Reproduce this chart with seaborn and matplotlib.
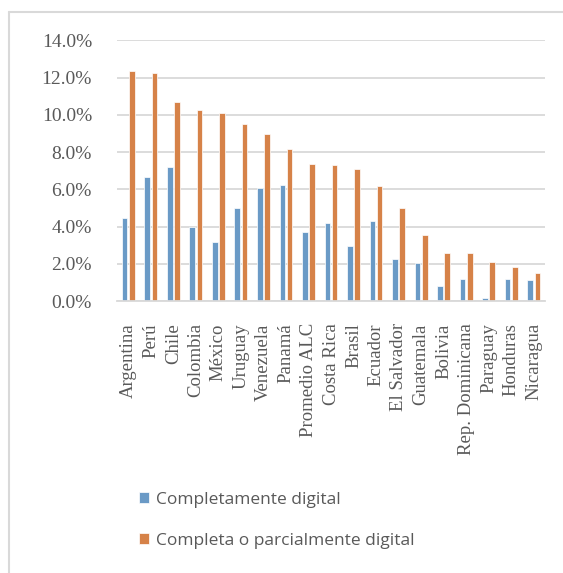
import pandas as pd
import matplotlib.pyplot as plt
import seaborn as sns
from matplotlib.lines import Line2D
from matplotlib.ticker import PercentFormatter

# Countries on the x axis, in the order shown
countries = ['Argentina', 'Perú', 'Chile', 'Colombia', 'México', 'Uruguay', 'Venezuela',
             'Panamá', 'Promedio ALC', 'Costa Rica', 'Brasil', 'Ecuador', 'El Salvador',
             'Guatemala', 'Bolivia', 'Rep. Dominicana', 'Paraguay', 'Honduras', 'Nicaragua']
# Share (%)
completamente = [4.47, 6.66, 7.20, 4.00, 3.18, 5.00, 6.07, 6.21, 3.68, 4.20,
                 2.96, 4.32, 2.27, 2.05, 0.80, 1.18, 0.16, 1.20, 1.11]
parcialmente = [12.37, 12.23, 10.71, 10.25, 10.12, 9.50, 8.95, 8.18, 7.36, 7.28,
                7.07, 6.20, 5.02, 3.52, 2.59, 2.59, 2.12, 1.80, 1.48]
series_names = ['Completamente digital', 'Completa o parcialmente digital']
colors = ['#5B9BD5', '#ED7D31']

df = pd.DataFrame({'pais': countries * 2,
                   'valor': completamente + parcialmente,
                   'serie': [series_names[0]] * len(countries) + [series_names[1]] * len(countries)})

sns.set_style('white')
fig = plt.figure(figsize=(5.63, 5.73), dpi=100)
ax = fig.add_axes([117 / 563, 1 - 301 / 573, 428 / 563, 260.7 / 573])

sns.barplot(data=df, x='pais', y='valor', hue='serie', palette=colors, width=0.64, gap=0.22,
            edgecolor='white', linewidth=0.5, ax=ax)

ax.set_ylim(0, 14)
ax.set_yticks(range(0, 15, 2))
ax.yaxis.set_major_formatter(PercentFormatter(decimals=1))
ax.set_xlim(-0.5, len(countries) - 0.5)
ax.grid(axis='y', color='#D9D9D9', linewidth=1.3)
ax.set_axisbelow(True)
for s in ['top', 'right', 'left']:
    ax.spines[s].set_visible(False)
ax.spines['bottom'].set_color('#D9D9D9')
ax.spines['bottom'].set_linewidth(1.3)
ax.set_xlabel('')
ax.set_ylabel('')
ax.tick_params(axis='y', length=0, pad=18, labelsize=14, labelcolor='#595959')
ax.tick_params(axis='x', length=0, pad=16, labelsize=13.5, labelcolor='#595959', rotation=90)
for lbl in ax.get_xticklabels() + ax.get_yticklabels():
    lbl.set_fontfamily('Liberation Serif')

handles, labels = ax.get_legend_handles_labels()
ax.get_legend().remove()
leg = fig.legend(handles, labels, loc='upper left', bbox_to_anchor=(123 / 563, 1 - 476 / 573),
                 frameon=False, handlelength=0.6, handleheight=0.6, handletextpad=0.4,
                 labelspacing=1.45, prop={'family': 'Open Sans', 'size': 12.5})
for t in leg.get_texts():
    t.set_color('#595959')

# partial chart frame (top and left edges)
fig.add_artist(Line2D([9 / 563, 9 / 563], [0, 1 - 12 / 573], color='#D9D9D9', linewidth=1.5))
fig.add_artist(Line2D([9 / 563, 1], [1 - 12 / 573, 1 - 12 / 573], color='#D9D9D9', linewidth=1.5))

fig.savefig('out.png', dpi=100)
